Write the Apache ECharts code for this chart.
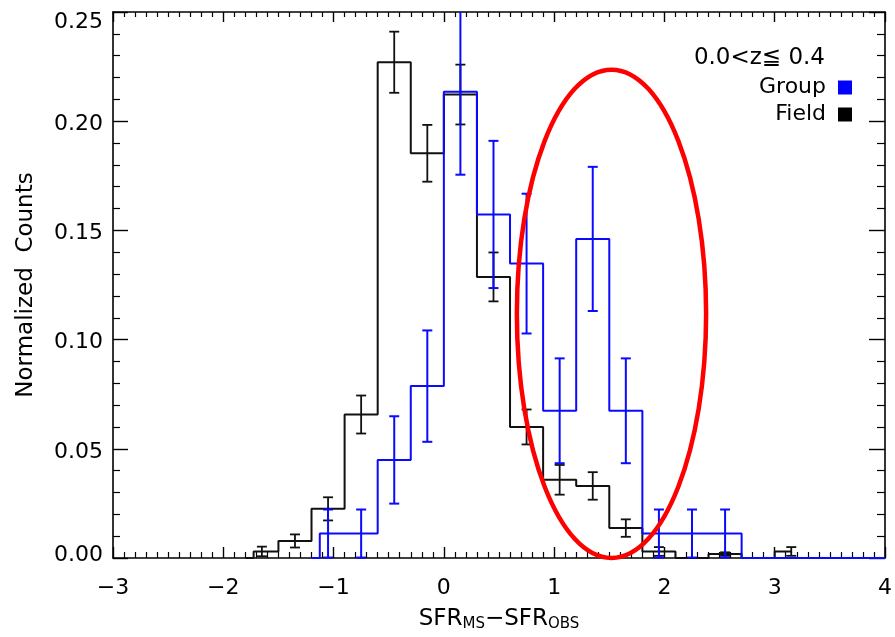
<!DOCTYPE html>
<html>
<head>
<meta charset="utf-8">
<script src="https://cdn.jsdelivr.net/npm/echarts@6/dist/echarts.min.js"></script>
<style>
html,body{margin:0;padding:0;background:#fff;}
#chart{width:895px;height:637px;}
</style>
</head>
<body>
<div id="chart"></div>
<script>
// ---- data ----
// bin centres; the first / last entries are the zero-valued anchor points of the step outline
const fieldX   = [-1.8, -1.65, -1.35, -1.05, -0.75, -0.45, -0.15, 0.15, 0.45, 0.75, 1.05, 1.35, 1.65, 1.95, 2.25, 2.55, 2.85, 3.15];
const fieldY   = [0, 0.0030, 0.0078, 0.0225, 0.0657, 0.2270, 0.1853, 0.2122, 0.1287, 0.0600, 0.0358, 0.0330, 0.0137, 0.0030, 0.0, 0.0018, 0.0, 0.0030];
const fieldErr = [null, 0.0022, 0.0030, 0.0053, 0.0087, 0.0140, 0.0130, 0.0137, 0.0112, 0.0080, 0.0068, 0.0063, 0.0040, 0.0020, 0.0, 0.0008, 0.0, 0.0020];

const groupX   = [-1.2, -1.05, -0.75, -0.45, -0.15, 0.15, 0.45, 0.75, 1.05, 1.35, 1.65, 1.95, 2.25, 2.55, 2.85, 3.15, 3.45, 3.75, 4.0];
const groupY   = [0, 0.0112, 0.0112, 0.0449, 0.0787, 0.2135, 0.1573, 0.1348, 0.0674, 0.1461, 0.0674, 0.0112, 0.0112, 0.0112, 0, 0, 0, 0, 0];
const groupErr = [null, 0.0110, 0.0110, 0.0200, 0.0255, 0.0380, 0.0337, 0.0320, 0.0240, 0.0330, 0.0240, 0.0110, 0.0110, 0.0110, null, null, null, null, null];

const xTicks = [-3, -2, -1, 0, 1, 2, 3, 4];
const yTicks = [0.00, 0.05, 0.10, 0.15, 0.20, 0.25];
const legendTitle = '0.0<z\u2266 0.4';
const seriesNames = ['Group', 'Field'];
// highlighted region: centre x, centre y, half-width, half-height (data units)
const highlight = [1.52, 0.1118, 0.858, 0.1118];

const X_MIN = xTicks[0], X_MAX = xTicks[xTicks.length - 1];
const Y_MIN = yTicks[0], Y_MAX = yTicks[yTicks.length - 1];
const FONT = 'DejaVu Sans';

// IDL psym=10 style step outline
function stepOutline(xs, ys) {
  const pts = [[xs[0], ys[0]]];
  for (let i = 1; i < xs.length; i++) {
    const m = (xs[i - 1] + xs[i]) / 2;
    pts.push([m, ys[i - 1]]);
    pts.push([m, ys[i]]);
  }
  pts.push([xs[xs.length - 1], ys[ys.length - 1]]);
  return pts;
}
function errData(xs, ys, es) {
  const out = [];
  for (let i = 0; i < xs.length; i++) {
    if (es[i] === null || es[i] === undefined) continue;
    out.push([xs[i], ys[i], es[i]]);
  }
  return out;
}
function errRender(color, w) {
  return function (params, api) {
    const x = api.value(0), y = api.value(1), e = api.value(2);
    const hiV = Math.min(y + e, Y_MAX), loV = Math.max(y - e, Y_MIN);
    const hi = api.coord([x, hiV]);
    const lo = api.coord([x, loV]);
    const cap = 5;
    const st = {stroke: color, lineWidth: w};
    const children = [
      {type: 'line', shape: {x1: hi[0], y1: hi[1], x2: lo[0], y2: lo[1]}, style: st}
    ];
    if (y + e <= Y_MAX) children.push({type: 'line', shape: {x1: hi[0] - cap, y1: hi[1], x2: hi[0] + cap, y2: hi[1]}, style: st});
    children.push({type: 'line', shape: {x1: lo[0] - cap, y1: lo[1], x2: lo[0] + cap, y2: lo[1]}, style: st});
    return {type: 'group', children: children};
  };
}
function fmtX(v) { return v < 0 ? '\u2212' + (-v) : String(v); }
function fmtY(v) {
  const s = v.toFixed(2);
  if (v >= Y_MAX - 1e-9) return '{top|' + s + '}';
  if (v <= Y_MIN + 1e-9) return '{bot|' + s + '}';
  return '{n|' + s + '}';
}

const axisLineStyle = {color: '#000', width: 1.6};
const chart = echarts.init(document.getElementById('chart'), null, {renderer: 'canvas'});
chart.setOption({
  animation: false,
  backgroundColor: '#fff',
  title: {
    text: legendTitle, right: 70, top: 47, padding: 0,
    textStyle: {fontFamily: FONT, fontSize: 23, fontWeight: 'normal', color: '#000'}
  },
  legend: {
    data: seriesNames, orient: 'vertical', right: 43, top: 74, padding: 0,
    align: 'right', icon: 'rect', itemWidth: 14, itemHeight: 14, itemGap: 0,
    textStyle: {fontFamily: FONT, fontSize: 22, color: '#000', lineHeight: 27, padding: [0, 7, 0, 0]}
  },
  grid: {left: 113, right: 8, top: 12, bottom: 76, containLabel: false},
  xAxis: [{
    type: 'value', min: X_MIN, max: X_MAX, interval: 1, position: 'bottom',
    axisLine: {show: true, onZero: false, lineStyle: axisLineStyle},
    axisTick: {show: true, inside: true, length: 11, lineStyle: {color: '#000', width: 1.4}},
    minorTick: {show: true, splitNumber: 10, length: 6, lineStyle: {color: '#000', width: 1.2}},
    axisLabel: {fontFamily: FONT, fontSize: 22, color: '#000', margin: 19, formatter: fmtX},
    splitLine: {show: false},
    name: '{m|SFR}{s|MS}{m|\u2212SFR}{s|OBS}', nameLocation: 'middle', nameGap: 49,
    nameTextStyle: {
      fontFamily: FONT, color: '#000',
      rich: {
        m: {fontFamily: FONT, fontSize: 23, color: '#000'},
        s: {fontFamily: FONT, fontSize: 15, color: '#000', padding: [10, 0, 0, 0]}
      }
    }
  }, {
    type: 'value', min: X_MIN, max: X_MAX, interval: 1, position: 'top',
    axisLine: {show: true, onZero: false, lineStyle: axisLineStyle},
    axisTick: {show: true, inside: true, length: 10, lineStyle: {color: '#000', width: 1.4}},
    minorTick: {show: true, splitNumber: 10, length: 5, lineStyle: {color: '#000', width: 1.2}},
    axisLabel: {show: false}, splitLine: {show: false}
  }],
  yAxis: [{
    type: 'value', min: Y_MIN, max: Y_MAX, interval: 0.05, position: 'left',
    axisLine: {show: true, onZero: false, lineStyle: axisLineStyle},
    axisTick: {show: true, inside: true, length: 15, lineStyle: {color: '#000', width: 1.4}},
    minorTick: {show: true, splitNumber: 5, length: 7, lineStyle: {color: '#000', width: 1.2}},
    axisLabel: {
      fontFamily: FONT, fontSize: 22, color: '#000', margin: 10, formatter: fmtY,
      rich: {
        n: {fontFamily: FONT, fontSize: 22, color: '#000', padding: [6, 0, 0, 0]},
        top: {fontFamily: FONT, fontSize: 22, color: '#000', padding: [20, 0, 0, 0]},
        bot: {fontFamily: FONT, fontSize: 22, color: '#000', padding: [0, 0, 5, 0]}
      }
    },
    splitLine: {show: false},
    name: 'Normalized  Counts', nameLocation: 'middle', nameGap: 75,
    nameTextStyle: {fontFamily: FONT, fontSize: 23, color: '#000'}
  }, {
    type: 'value', min: Y_MIN, max: Y_MAX, interval: 0.05, position: 'right',
    axisLine: {show: true, onZero: false, lineStyle: axisLineStyle},
    axisTick: {show: true, inside: true, length: 16, lineStyle: {color: '#000', width: 1.4}},
    minorTick: {show: true, splitNumber: 5, length: 8, lineStyle: {color: '#000', width: 1.2}},
    axisLabel: {show: false}, splitLine: {show: false}
  }],
  series: [
    {
      name: 'Field', type: 'line', xAxisIndex: 0, yAxisIndex: 0,
      data: stepOutline(fieldX, fieldY), showSymbol: false, symbol: 'none',
      color: '#000', lineStyle: {color: '#111', width: 2}, z: 2
    },
    {
      name: 'Field err', type: 'custom', xAxisIndex: 0, yAxisIndex: 0,
      data: errData(fieldX, fieldY, fieldErr), renderItem: errRender('#111', 1.8), z: 2
    },
    {
      name: 'Group', type: 'line', xAxisIndex: 0, yAxisIndex: 0,
      data: stepOutline(groupX, groupY), showSymbol: false, symbol: 'none',
      color: '#0000ff', lineStyle: {color: '#0a0aff', width: 2}, z: 3
    },
    {
      name: 'Group err', type: 'custom', xAxisIndex: 0, yAxisIndex: 0,
      data: errData(groupX, groupY, groupErr), renderItem: errRender('#0a0aff', 2), z: 3
    },
    {
      name: 'highlight', type: 'custom', xAxisIndex: 0, yAxisIndex: 0,
      data: [highlight], z: 5,
      renderItem: function (params, api) {
        const c = api.coord([api.value(0), api.value(1)]);
        const s = api.size([api.value(2), api.value(3)]);
        return {type: 'ellipse', shape: {cx: c[0], cy: c[1], rx: s[0], ry: s[1]},
                style: {fill: null, stroke: '#ff0000', lineWidth: 4.5}};
      }
    }
  ]
});
</script>
</body>
</html>
